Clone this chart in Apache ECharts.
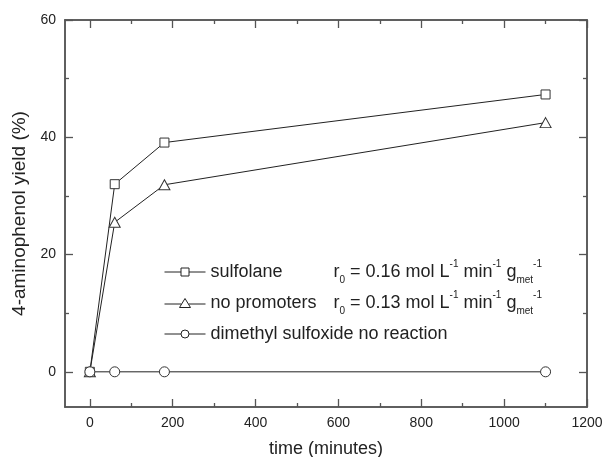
<!DOCTYPE html>
<html>
<head>
<meta charset="utf-8">
<script src="https://cdn.jsdelivr.net/npm/echarts@6/dist/echarts.min.js"></script>
<style>
html,body{margin:0;padding:0;background:#fff;}
#chart{width:603px;height:457px;}
</style>
</head>
<body>
<div id="chart"></div>
<script>
// ---- data ----
const timeMinutes = [0, 60, 180, 1100];
const sulfolaneYield = [0, 32.0, 39.1, 47.3];
const noPromotersYield = [0, 25.5, 31.9, 42.5];
const dmsoYield = [0, 0, 0, 0];
const seriesNames = ['sulfolane', 'no promoters', 'dimethyl sulfoxide no reaction'];
const rateLabels = { 'sulfolane': '0.16', 'no promoters': '0.13' };
const xMajorTicks = [0, 200, 400, 600, 800, 1000, 1200];
const xMinorTicks = [100, 300, 500, 700, 900, 1100];
const yMajorTicks = [0, 20, 40, 60];
const yMinorTicks = [10, 30, 50];
const xRange = [-60, 1200];
const yRange = [-6, 60];

const FONT = '"Liberation Sans", Arial, sans-serif';
const AX = '#555';
const INK = '#222';

function pairs(xs, ys) { return xs.map((x, i) => [x, ys[i]]); }

const chart = echarts.init(document.getElementById('chart'), null, { renderer: 'canvas' });

function plain(v) { return String(v); }

function xAx(pos, gridIndex, ticks, len, showLabel, extra) {
  return Object.assign({
    type: 'value', gridIndex: gridIndex, position: pos,
    min: xRange[0], max: xRange[1],
    axisLine: { show: true, onZero: false, lineStyle: { color: AX, width: 1.5 } },
    axisTick: { show: true, inside: true, length: len, customValues: ticks, lineStyle: { color: AX, width: 1.3 } },
    axisLabel: showLabel ? { show: true, customValues: ticks, formatter: plain, color: INK, fontSize: 14, fontFamily: FONT, margin: 9 } : { show: false },
    splitLine: { show: false }
  }, extra || {});
}
function yAx(pos, gridIndex, ticks, len, showLabel, extra) {
  return Object.assign({
    type: 'value', gridIndex: gridIndex, position: pos,
    min: yRange[0], max: yRange[1],
    axisLine: { show: true, onZero: false, lineStyle: { color: AX, width: 1.5 } },
    axisTick: { show: true, inside: true, length: len, customValues: ticks, lineStyle: { color: AX, width: 1.3 } },
    axisLabel: showLabel ? { show: true, customValues: ticks, formatter: plain, color: INK, fontSize: 14, fontFamily: FONT, margin: 9 } : { show: false },
    splitLine: { show: false }
  }, extra || {});
}

const rich = {
  a: { width: 123, fontSize: 18, fontFamily: FONT, color: INK, lineHeight: 26 },
  t: { fontSize: 18, fontFamily: FONT, color: INK, lineHeight: 26 },
  sub: { fontSize: 10, fontFamily: FONT, color: INK, verticalAlign: 'bottom', lineHeight: 11 },
  sup: { fontSize: 10, fontFamily: FONT, color: INK, verticalAlign: 'top', lineHeight: 15 }
};

// legend icons: line + thin empty marker
const legendIcons = [
  'path://M0,5.5L16.5,5.5M16.5,1.5L24.5,1.5L24.5,9.5L16.5,9.5ZM24.5,5.5L41,5.5',
  'path://M0,6L16.8,6M20.5,0.5L26,9.5L15,9.5ZM24.2,6L41,6',
  'path://M0,5.5L16.5,5.5M16.5,5.5A4,4 0 1,1 24.5,5.5A4,4 0 1,1 16.5,5.5ZM24.5,5.5L41,5.5'
];

const gridBox = { left: 65, top: 20, width: 522, height: 387, containLabel: false, outerBoundsMode: 'none' };

const markerStyle = { color: '#fff', borderColor: '#333', borderWidth: 1 };

const option = {
  animation: false,
  backgroundColor: '#fff',
  textStyle: { fontFamily: FONT },
  grid: [Object.assign({}, gridBox), Object.assign({}, gridBox)],
  xAxis: [
    xAx('bottom', 0, xMajorTicks, 8, true, {
      name: 'time (minutes)', nameLocation: 'middle', nameGap: 33,
      nameTextStyle: { fontSize: 18, color: INK, fontFamily: FONT }
    }),
    xAx('top', 0, xMajorTicks, 8, false),
    xAx('bottom', 1, xMinorTicks, 4, false),
    xAx('top', 1, xMinorTicks, 4, false)
  ],
  yAxis: [
    yAx('left', 0, yMajorTicks, 8, true, {
      name: '4-aminophenol yield (%)', nameLocation: 'middle', nameGap: 33, nameRotate: 90,
      nameTextStyle: { fontSize: 19, color: INK, fontFamily: FONT }
    }),
    yAx('right', 0, yMajorTicks, 8, false),
    yAx('left', 1, yMinorTicks, 4, false),
    yAx('right', 1, yMinorTicks, 4, false)
  ],
  legend: {
    orient: 'vertical', left: 159, top: 254, itemGap: 5, padding: 5,
    itemWidth: 41, itemHeight: 11, symbolKeepAspect: true,
    data: seriesNames.map((n, i) => ({ name: n, icon: legendIcons[i] })),
    itemStyle: { color: '#fff', borderColor: INK, borderWidth: 1 },
    textStyle: { fontSize: 18, fontFamily: FONT, color: INK, lineHeight: 26, rich: rich },
    formatter: function (name) {
      if (rateLabels[name]) {
        return '{a|' + name + '}{t|r}{sub|0}{t| = ' + rateLabels[name] + ' mol L}{sup|-1}{t| min}{sup|-1}{t| g}{sub|met}{sup|-1}';
      }
      return '{t|' + name + '}';
    }
  },
  series: [
    {
      name: seriesNames[0], type: 'line', xAxisIndex: 0, yAxisIndex: 0,
      data: pairs(timeMinutes, sulfolaneYield),
      symbol: 'rect', symbolSize: 9,
      lineStyle: { color: INK, width: 1 },
      itemStyle: markerStyle
    },
    {
      name: seriesNames[1], type: 'line', xAxisIndex: 0, yAxisIndex: 0,
      data: pairs(timeMinutes, noPromotersYield),
      symbol: 'triangle', symbolSize: [11, 10],
      lineStyle: { color: INK, width: 1 },
      itemStyle: markerStyle
    },
    {
      name: seriesNames[2], type: 'line', xAxisIndex: 0, yAxisIndex: 0,
      data: pairs(timeMinutes, dmsoYield),
      symbol: 'circle', symbolSize: 10,
      lineStyle: { color: INK, width: 1 },
      itemStyle: markerStyle
    }
  ]
};
chart.setOption(option);
</script>
</body>
</html>
